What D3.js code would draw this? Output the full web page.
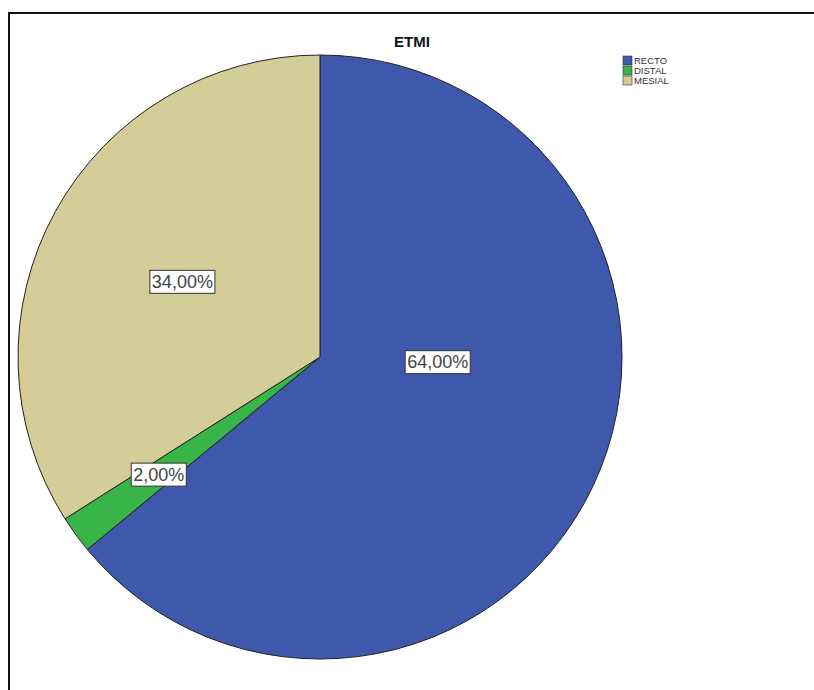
<!DOCTYPE html>
<html>
<head>
<meta charset="utf-8">
<script src="https://cdn.jsdelivr.net/npm/d3@7"></script>
<style>
  html, body { margin: 0; padding: 0; background: #fff; }
  svg { display: block; }
</style>
</head>
<body>
<div id="chart"></div>
<script>
// Data
const categories = ['RECTO', 'DISTAL', 'MESIAL'];
const percents = [64, 2, 34];
const sliceColors = ['#3e58ac', '#38b449', '#d4cd98'];
const chartTitle = 'ETMI';

const width = 814, height = 690;
const cx = 320, cy = 357, radius = 302;

const svg = d3.select('#chart').append('svg')
  .attr('width', width)
  .attr('height', height);

// outer frame (runs off the right and bottom edges)
svg.append('rect')
  .attr('x', 9).attr('y', 13)
  .attr('width', 830).attr('height', 700)
  .attr('fill', '#fff')
  .attr('stroke', '#111')
  .attr('stroke-width', 2);

// title
svg.append('text')
  .attr('x', 412).attr('y', 47)
  .attr('text-anchor', 'middle')
  .attr('font-family', 'Arial, Liberation Sans, sans-serif')
  .attr('font-weight', 'bold')
  .attr('font-size', 15)
  .attr('fill', '#111')
  .text(chartTitle);

const pie = d3.pie().sort(null).value(d => d);
const arcs = pie(percents);
const arc = d3.arc().innerRadius(0).outerRadius(radius);

const g = svg.append('g').attr('transform', `translate(${cx},${cy})`);

g.selectAll('path.slice')
  .data(arcs)
  .enter().append('path')
  .attr('class', 'slice')
  .attr('d', arc)
  .attr('fill', (d, i) => sliceColors[i])
  .attr('stroke', '#222')
  .attr('stroke-width', 1);

// labels: radius fraction and angle shift (SPSS places them unevenly)
const labelRadius = [0.39, 0.66, 0.52];
const labelShift = [-0.4, 0, 0];
const fmt = v => v.toFixed(2).replace('.', ',') + '%';

const labels = g.selectAll('g.lbl')
  .data(arcs)
  .enter().append('g')
  .attr('class', 'lbl')
  .attr('transform', (d, i) => {
    const a = (d.startAngle + d.endAngle) / 2 + labelShift[i];
    const r = radius * labelRadius[i];
    return `translate(${r * Math.sin(a)},${-r * Math.cos(a)})`;
  });

labels.each(function(d, i) {
  const sel = d3.select(this);
  const t = sel.append('text')
    .attr('text-anchor', 'middle')
    .attr('dy', '0.36em')
    .attr('font-family', 'Arial, Liberation Sans, sans-serif')
    .attr('font-size', 18)
    .attr('fill', '#444')
    .text(fmt(percents[i]));
  const bb = t.node().getBBox();
  sel.insert('rect', 'text')
    .attr('x', bb.x - 2).attr('y', bb.y - 1.5)
    .attr('width', bb.width + 4).attr('height', bb.height + 3)
    .attr('fill', '#fff')
    .attr('stroke', '#333')
    .attr('stroke-width', 1);
});

// legend
const legend = svg.append('g').attr('transform', 'translate(623,56)');
const rows = legend.selectAll('g')
  .data(categories)
  .enter().append('g')
  .attr('transform', (d, i) => `translate(0,${i * 10})`);
rows.append('rect')
  .attr('width', 9).attr('height', 9)
  .attr('fill', (d, i) => sliceColors[i])
  .attr('stroke', '#333')
  .attr('stroke-width', 0.6);
rows.append('text')
  .attr('x', 11).attr('y', 8)
  .attr('font-family', 'Arial, Liberation Sans, sans-serif')
  .attr('font-size', 9.5)
  .attr('fill', '#333')
  .text(d => d);
</script>
</body>
</html>
